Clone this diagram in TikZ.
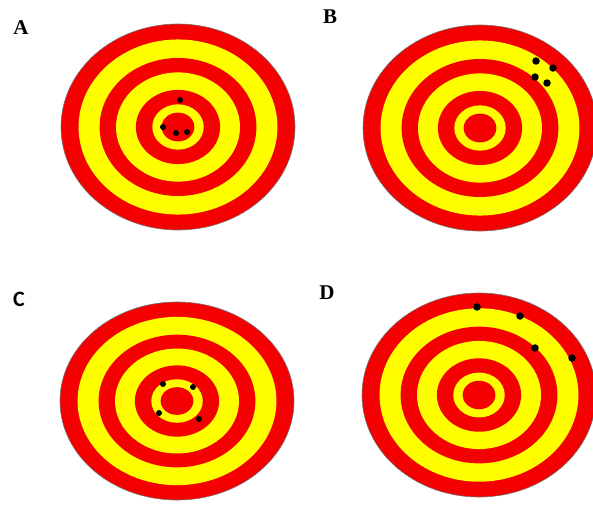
\documentclass[tikz,border=0pt]{standalone}
\usepackage{fontspec}
\setmainfont{Liberation Serif}
\newfontfamily\lblsans{Carlito}
\definecolor{tgtRed}{RGB}{245,0,0}
\definecolor{tgtYellow}{RGB}{255,255,0}
\begin{document}
\begin{tikzpicture}[x=1pt,y=-1pt,
    rim/.style={draw=black!55,line width=0.6pt},
    hit/.style={circle,fill=black,inner sep=0pt,minimum size=7.5pt},
    lbl/.style={font=\fontsize{21}{24}\selectfont\bfseries}]
  \useasboundingbox (0,0) rectangle (593,509);
  % four targets
  \foreach \cx/\cy/\ry in {178/127/103,480/128/103,177/401/99,479/395/102}{
    \filldraw[rim,fill=tgtRed] (\cx,\cy) ellipse[x radius=117,y radius=\ry];
    \foreach \f/\col in {.85/tgtYellow,.67/tgtRed,.53/tgtYellow,.36/tgtRed,.22/tgtYellow,.14/tgtRed}
      \fill[\col] (\cx,\cy) ellipse[x radius=\f*117,y radius=\f*\ry];
  }
  % labels
  \node[lbl] (lblA) at (21,28) {A};
  \node[lbl] (lblB) at (330,17) {B};
  \node[lbl,font=\fontsize{22}{24}\selectfont\lblsans\bfseries] (lblC) at (19,299) {C};
  \node[lbl] (lblD) at (327,293) {D};
  % shots
  \foreach \x/\y [count=\i] in {180/100,163/127,176/133,187/132}
    \node[hit,minimum size=6pt] (hitA\i) at (\x,\y) {};
  \foreach \x/\y [count=\i] in {536/61,553/68,535/77,547/83}
    \node[hit] (hitB\i) at (\x,\y) {};
  \foreach \x/\y [count=\i] in {163/384,193/387,159/413,199/419}
    \node[hit,minimum size=6pt] (hitC\i) at (\x,\y) {};
  \foreach \x/\y [count=\i] in {477/307,520/316,535/348,572/358}
    \node[hit] (hitD\i) at (\x,\y) {};
\end{tikzpicture}
\end{document}
